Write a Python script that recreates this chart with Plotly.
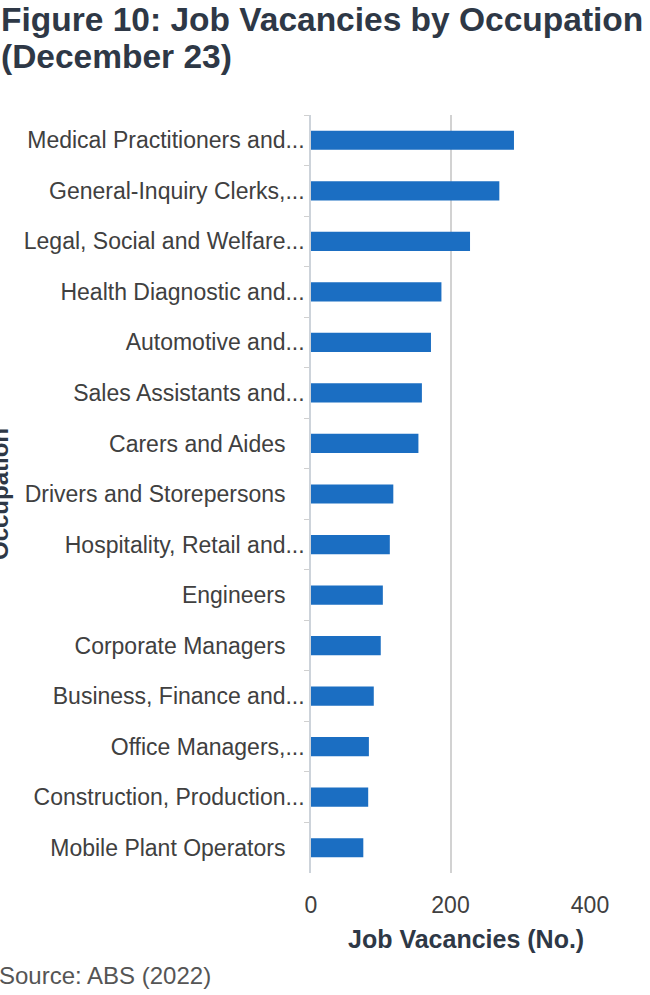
import plotly.graph_objects as go

# Data (top to bottom as shown)
occupations = [
    "Medical Practitioners and",
    "General-Inquiry Clerks,",
    "Legal, Social and Welfare",
    "Health Diagnostic and",
    "Automotive and",
    "Sales Assistants and",
    "Carers and Aides",
    "Drivers and Storepersons",
    "Hospitality, Retail and",
    "Engineers",
    "Corporate Managers",
    "Business, Finance and",
    "Office Managers,",
    "Construction, Production",
    "Mobile Plant Operators",
]
truncated = [True, True, True, True, True, True, False, False, True,
             False, False, True, True, True, False]
vacancies = [291, 270, 228, 187, 172, 159, 154, 118, 113, 103, 100, 90, 83, 82, 75]
x_ticks = [0, 200, 400]

labels = [o + ("..." if t else "\u00a0\u00a0\u00a0") for o, t in zip(occupations, truncated)]

W, H = 650, 995
ML, MR, MT, MB = 311, 60, 115, 122
plot_w = W - ML - MR
plot_h = H - MT - MB

fig = go.Figure(go.Bar(
    x=vacancies, y=labels, orientation="h",
    marker=dict(color="#1b6ec2", line=dict(width=0)),
    hoverinfo="skip",
))

fig.update_layout(
    width=W, height=H,
    margin=dict(l=ML, r=MR, t=MT, b=MB, pad=0, autoexpand=False),
    paper_bgcolor="white", plot_bgcolor="white",
    font=dict(family="Liberation Sans, Arial, sans-serif", color="#404040"),
    bargap=0.62,
    showlegend=False,
)

fig.update_xaxes(
    range=[0, 400], tickvals=x_ticks, ticktext=[str(v) for v in x_ticks],
    showgrid=True, gridcolor="#d2d2d2", gridwidth=1.5,
    zeroline=False, showline=False, ticks="",
    tickfont=dict(size=23, color="#404040"),
    ticklabelstandoff=16, automargin=False,
    fixedrange=True,
)
fig.update_yaxes(
    autorange="reversed", type="category",
    showgrid=False, showline=True, linecolor="#cdd3da", linewidth=1.5,
    ticks="outside", tickson="boundaries", ticklen=5, tickcolor="#d0d0d0",
    tickfont=dict(size=23, color="#404040"), automargin=False,
    fixedrange=True,
)

def px_x(p):
    return (p - ML) / plot_w

def px_y(p):
    return (H - MB - p) / plot_h

title_font = dict(size=33.5, color="#2e3846", family="Liberation Sans, Arial, sans-serif")
annotations = [
    dict(text="<b>Figure 10: Job Vacancies by Occupation</b>", xref="paper", yref="paper",
         x=px_x(-1), y=px_y(-1), xanchor="left", yanchor="top",
         showarrow=False, font=title_font),
    dict(text="<b>(December 23)</b>", xref="paper", yref="paper",
         x=px_x(-1), y=px_y(36), xanchor="left", yanchor="top",
         showarrow=False, font=title_font),
    dict(text="<b>Job Vacancies (No.)</b>", xref="paper", yref="paper",
         x=px_x(466), y=px_y(939), xanchor="center", yanchor="middle",
         showarrow=False, font=dict(size=25, color="#2e3846")),
    dict(text="<b>Occupation</b>", xref="paper", yref="paper",
         x=px_x(-1), y=px_y(494), xanchor="center", yanchor="middle",
         textangle=-90, showarrow=False, font=dict(size=24, color="#2e3846")),
    dict(text="Source: ABS (2022)", xref="paper", yref="paper",
         x=px_x(-3), y=px_y(975), xanchor="left", yanchor="middle",
         showarrow=False, font=dict(size=24, color="#555555")),
]
fig.update_layout(annotations=annotations)

fig.write_html(
    "out.html",
    config={"displayModeBar": False},
    post_script="document.body.style.margin='0';document.body.style.padding='0';",
)
